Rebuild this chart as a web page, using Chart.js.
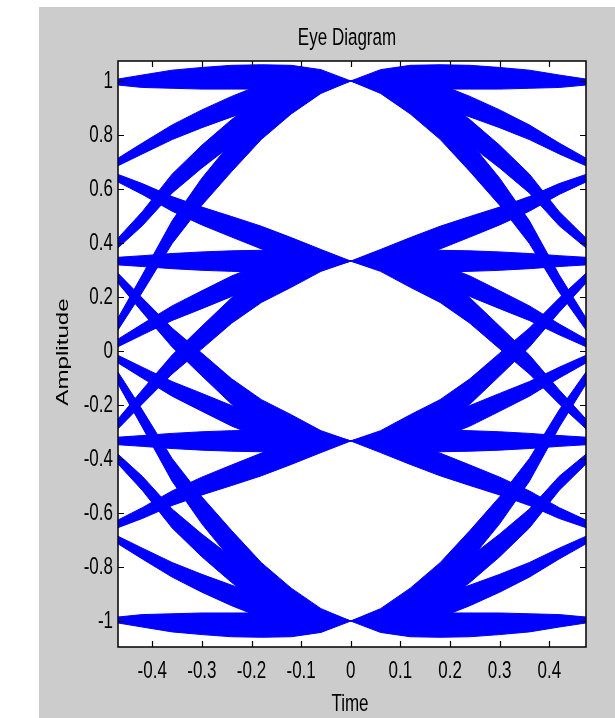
<!DOCTYPE html>
<html>
<head>
<meta charset="utf-8">
<script src="https://cdn.jsdelivr.net/npm/chart.js@4/dist/chart.umd.min.js"></script>
<style>
  html, body { margin: 0; padding: 0; background: #ffffff; }
  #wrap { width: 615px; height: 718px; }
</style>
</head>
<body>
<div id="wrap"><canvas id="eye" width="615" height="718"></canvas></div>
<script>
// Sample instants of one symbol period, split at the decision instant t = 0
const leftTimes  = [-0.469, -0.42, -0.36, -0.30, -0.24, -0.18, -0.12, -0.06, 0];
const rightTimes = [0, 0.06, 0.12, 0.18, 0.24, 0.30, 0.36, 0.42, 0.474];

// 4-PAM symbol levels (row order of every band group below)
const symbolLevels = [1, 0.333, -0.333, -1];

// Tick labels
const xTicks = [-0.4, -0.3, -0.2, -0.1, 0, 0.1, 0.2, 0.3, 0.4];
const yTicks = [1, 0.8, 0.6, 0.4, 0.2, 0, -0.2, -0.4, -0.6, -0.8, -1];

// Half-width of each band (ISI spread), from the outer end of the band towards t = 0.
// Bands that stay on the outer levels +-1 overshoot away from zero more than towards it.
const spreadEdgeOuter = [0.007, 0.022, 0.040, 0.050, 0.058, 0.060, 0.058, 0.042, 0];
const spreadEdgeInner = [0.015, 0.024, 0.027, 0.030, 0.030, 0.030, 0.030, 0.020, 0];
const spreadFlat  = [0.014, 0.020, 0.028, 0.034, 0.038, 0.040, 0.038, 0.024, 0];
const spreadStep1 = [0.014, 0.020, 0.027, 0.033, 0.038, 0.042, 0.040, 0.026, 0];
const spreadStep2 = [0.018, 0.026, 0.035, 0.042, 0.047, 0.050, 0.044, 0.025, 0];
const spreadStep3 = [0.022, 0.032, 0.042, 0.050, 0.055, 0.056, 0.048, 0.026, 0];

// Band centre lines arriving at t = 0 (left half); rows: previous symbol 1, 1/3, -1/3, -1
const leftInto1 = [
  [1, 1, 1, 1, 1, 1, 1, 1, 1],
  [0.70, 0.75, 0.81, 0.86, 0.905, 0.945, 0.97, 0.99, 1],
  [0.40, 0.49, 0.62, 0.72, 0.81, 0.89, 0.95, 0.985, 1],
  [0.10, 0.25, 0.44, 0.59, 0.72, 0.84, 0.926, 0.98, 1]
];
const leftIntoP3 = [
  [0.64, 0.60, 0.545, 0.50, 0.46, 0.42, 0.38, 0.35, 0.333],
  [0.333, 0.333, 0.333, 0.333, 0.333, 0.333, 0.333, 0.333, 0.333],
  [0.03, 0.08, 0.14, 0.19, 0.24, 0.28, 0.31, 0.326, 0.333],
  [-0.27, -0.17, -0.05, 0.05, 0.15, 0.23, 0.28, 0.32, 0.333]
];
const leftIntoM3 = [
  [0.27, 0.17, 0.05, -0.05, -0.15, -0.23, -0.28, -0.32, -0.333],
  [-0.03, -0.08, -0.14, -0.19, -0.24, -0.28, -0.31, -0.326, -0.333],
  [-0.333, -0.333, -0.333, -0.333, -0.333, -0.333, -0.333, -0.333, -0.333],
  [-0.64, -0.60, -0.545, -0.50, -0.46, -0.42, -0.38, -0.35, -0.333]
];
const leftIntoM1 = [
  [-0.10, -0.25, -0.44, -0.59, -0.72, -0.84, -0.926, -0.98, -1],
  [-0.40, -0.49, -0.62, -0.72, -0.81, -0.89, -0.95, -0.985, -1],
  [-0.70, -0.75, -0.81, -0.86, -0.905, -0.945, -0.97, -0.99, -1],
  [-1, -1, -1, -1, -1, -1, -1, -1, -1]
];

// Band centre lines leaving t = 0 (right half); rows: next symbol 1, 1/3, -1/3, -1
const rightFrom1 = [
  [1, 1, 1, 1, 1, 1, 1, 1, 1],
  [1, 0.99, 0.97, 0.945, 0.905, 0.86, 0.81, 0.75, 0.70],
  [1, 0.985, 0.95, 0.89, 0.81, 0.72, 0.62, 0.49, 0.40],
  [1, 0.98, 0.926, 0.84, 0.72, 0.59, 0.44, 0.25, 0.10]
];
const rightFromP3 = [
  [0.333, 0.35, 0.38, 0.42, 0.46, 0.50, 0.545, 0.60, 0.64],
  [0.333, 0.333, 0.333, 0.333, 0.333, 0.333, 0.333, 0.333, 0.333],
  [0.333, 0.326, 0.31, 0.28, 0.24, 0.19, 0.14, 0.08, 0.03],
  [0.333, 0.32, 0.28, 0.23, 0.15, 0.05, -0.05, -0.17, -0.27]
];
const rightFromM3 = [
  [-0.333, -0.32, -0.28, -0.23, -0.15, -0.05, 0.05, 0.17, 0.27],
  [-0.333, -0.326, -0.31, -0.28, -0.24, -0.19, -0.14, -0.08, -0.03],
  [-0.333, -0.333, -0.333, -0.333, -0.333, -0.333, -0.333, -0.333, -0.333],
  [-0.333, -0.35, -0.38, -0.42, -0.46, -0.50, -0.545, -0.60, -0.64]
];
const rightFromM1 = [
  [-1, -0.98, -0.926, -0.84, -0.72, -0.59, -0.44, -0.25, -0.10],
  [-1, -0.985, -0.95, -0.89, -0.81, -0.72, -0.62, -0.49, -0.40],
  [-1, -0.99, -0.97, -0.945, -0.905, -0.86, -0.81, -0.75, -0.70],
  [-1, -1, -1, -1, -1, -1, -1, -1, -1]
];

const TRACE_BLUE = '#0000ff';
const FIGURE_GREY = '#cccccc';
const TEXT_FONT = '17px "Liberation Sans", Arial, Helvetica, sans-serif';
const TEXT_STRETCH = 1.42;

const spreadBySteps = [spreadFlat, spreadStep1, spreadStep2, spreadStep3];

// Each band becomes one closed outline: upper edge forwards, lower edge backwards
function bandDataset(times, centre, spreadUp, spreadDown, outerFirst) {
  const n = times.length;
  const at = (arr, i) => arr[outerFirst ? i : n - 1 - i];
  const pts = [];
  for (let i = 0; i < n; i++) pts.push({ x: times[i], y: centre[i] + at(spreadUp, i) });
  for (let i = n - 1; i >= 0; i--) pts.push({ x: times[i], y: centre[i] - at(spreadDown, i) });
  return {
    data: pts,
    borderColor: TRACE_BLUE,
    backgroundColor: TRACE_BLUE,
    borderWidth: 1,
    fill: 'shape',
    pointRadius: 0,
    tension: 0
  };
}

function spreadsFor(level, other) {
  const steps = Math.abs(other - level);
  if (steps === 0 && level === 0) return [spreadEdgeOuter, spreadEdgeInner];
  if (steps === 0 && level === 3) return [spreadEdgeInner, spreadEdgeOuter];
  const s = spreadBySteps[steps];
  return [s, s];
}

const datasets = [];
[leftInto1, leftIntoP3, leftIntoM3, leftIntoM1].forEach((group, level) => {
  group.forEach((centre, prev) => {
    const [up, down] = spreadsFor(level, prev);
    datasets.push(bandDataset(leftTimes, centre, up, down, true));
  });
});
[rightFrom1, rightFromP3, rightFromM3, rightFromM1].forEach((group, level) => {
  group.forEach((centre, next) => {
    const [up, down] = spreadsFor(level, next);
    datasets.push(bandDataset(rightTimes, centre, up, down, false));
  });
});

function stretchedText(ctx, text, x, y, align, baseline, vertical) {
  ctx.save();
  ctx.translate(x, y);
  ctx.scale(1, TEXT_STRETCH);
  if (vertical) ctx.rotate(-Math.PI / 2);
  ctx.font = TEXT_FONT;
  ctx.fillStyle = '#000000';
  ctx.textAlign = align;
  ctx.textBaseline = baseline;
  ctx.fillText(text, 0, 0);
  ctx.restore();
}

const fmt = v => String(Math.round(v * 10) / 10);

// Figure background, axes box with inward ticks, labels and title
const figureFrame = {
  id: 'figureFrame',
  beforeDraw(chart) {
    const { ctx, chartArea: a } = chart;
    ctx.save();
    ctx.fillStyle = '#ffffff';
    ctx.fillRect(0, 0, chart.width, chart.height);
    ctx.fillStyle = FIGURE_GREY;
    ctx.fillRect(39, 7, chart.width - 39, chart.height - 7);
    ctx.fillStyle = '#ffffff';
    ctx.fillRect(a.left, a.top, a.right - a.left, a.bottom - a.top);
    ctx.restore();
  },
  afterDraw(chart) {
    const { ctx, chartArea: a, scales: { x, y } } = chart;
    ctx.save();
    ctx.strokeStyle = '#000000';
    ctx.lineWidth = 1.5;
    ctx.strokeRect(a.left, a.top, a.right - a.left, a.bottom - a.top);
    ctx.lineWidth = 1.2;
    ctx.beginPath();
    const tl = 6;
    xTicks.forEach(v => {
      const px = Math.round(x.getPixelForValue(v)) + 0.5;
      ctx.moveTo(px, a.bottom); ctx.lineTo(px, a.bottom - tl);
      ctx.moveTo(px, a.top); ctx.lineTo(px, a.top + tl);
    });
    yTicks.forEach(v => {
      const py = Math.round(y.getPixelForValue(v)) + 0.5;
      ctx.moveTo(a.left, py); ctx.lineTo(a.left + tl, py);
      ctx.moveTo(a.right, py); ctx.lineTo(a.right - tl, py);
    });
    ctx.stroke();
    ctx.restore();

    xTicks.forEach(v => stretchedText(ctx, fmt(v), x.getPixelForValue(v), a.bottom + 31, 'center', 'alphabetic'));
    yTicks.forEach(v => stretchedText(ctx, fmt(v), a.left - 5, y.getPixelForValue(v), 'right', 'middle'));
    stretchedText(ctx, 'Time', 350, 711, 'center', 'alphabetic');
    stretchedText(ctx, 'Amplitude', 63, 352, 'center', 'middle', true);
    stretchedText(ctx, 'Eye Diagram', 347, 45, 'center', 'alphabetic');
  }
};

new Chart(document.getElementById('eye'), {
  type: 'line',
  data: { datasets },
  options: {
    responsive: false,
    animation: false,
    devicePixelRatio: 1,
    layout: { padding: { left: 118, top: 61, right: 29, bottom: 71 } },
    plugins: {
      legend: { display: false },
      tooltip: { enabled: false },
      title: { display: false }
    },
    scales: {
      x: { type: 'linear', min: -0.469, max: 0.474, display: false },
      y: { type: 'linear', min: -1.096, max: 1.074, display: false }
    }
  },
  plugins: [figureFrame]
});
</script>
</body>
</html>
